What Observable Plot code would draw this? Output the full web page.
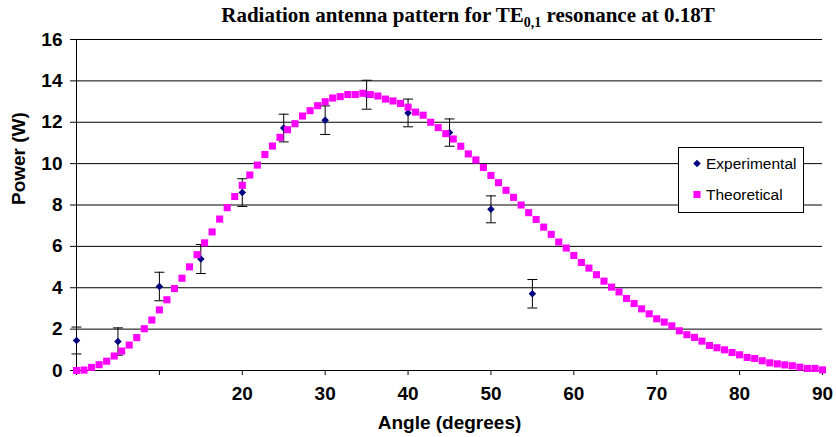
<!DOCTYPE html>
<html><head><meta charset="utf-8">
<script src="https://cdn.jsdelivr.net/npm/d3@7"></script>
<script src="https://cdn.jsdelivr.net/npm/@observablehq/plot@0.6"></script>
<style>
body{margin:0;background:#fff;}
#wrap{position:relative;width:836px;height:437px;background:#fff;overflow:hidden;}
#title{position:absolute;top:3px;left:468px;transform:translateX(-50%);white-space:nowrap;font-family:"Liberation Serif","Times New Roman",serif;font-weight:bold;font-size:21px;line-height:24px;color:#000;}
#title sub{font-size:14px;vertical-align:-5px;line-height:0;}
#chart{position:absolute;top:30px;left:0;}
</style></head><body>
<div id="wrap">
<div id="title">Radiation antenna pattern for TE<sub>0,1</sub> resonance at 0.18T</div>
<div id="chart"></div>
</div>
<script>
// Theoretical curve (angle in degrees, power in W)
const theoryAngle = [0,0.91,1.82,2.73,3.64,4.55,5.45,6.36,7.27,8.18,9.09,10,10.91,11.82,12.73,13.64,14.55,15.45,16.36,17.27,18.18,19.09,20,20.91,21.82,22.73,23.64,24.55,25.45,26.36,27.27,28.18,29.09,30,30.91,31.82,32.73,33.64,34.55,35.45,36.36,37.27,38.18,39.09,40,40.91,41.82,42.73,43.64,44.55,45.45,46.36,47.27,48.18,49.09,50,50.91,51.82,52.73,53.64,54.55,55.45,56.36,57.27,58.18,59.09,60,60.91,61.82,62.73,63.64,64.55,65.45,66.36,67.27,68.18,69.09,70,70.91,71.82,72.73,73.64,74.55,75.45,76.36,77.27,78.18,79.09,80,80.91,81.82,82.73,83.64,84.55,85.45,86.36,87.27,88.18,89.09,90];
const theoryPower = [0.00,0.02,0.15,0.28,0.45,0.70,0.94,1.23,1.59,2.02,2.44,2.93,3.42,3.96,4.46,5.01,5.60,6.17,6.70,7.32,7.87,8.41,8.95,9.45,9.93,10.44,10.85,11.27,11.64,11.93,12.30,12.56,12.80,12.99,13.17,13.24,13.34,13.34,13.40,13.34,13.27,13.12,13.03,12.91,12.73,12.49,12.34,12.00,11.74,11.45,11.19,10.84,10.47,10.18,9.81,9.43,9.08,8.71,8.37,8.00,7.63,7.30,6.93,6.58,6.21,5.92,5.56,5.22,4.95,4.63,4.32,4.03,3.80,3.48,3.24,2.98,2.74,2.50,2.34,2.16,1.92,1.73,1.60,1.42,1.21,1.10,1.00,0.87,0.76,0.63,0.58,0.47,0.37,0.32,0.27,0.23,0.16,0.10,0.10,0.03];

// Experimental measurements
const expAngle = [0,5,10,15,20,25,30,35,40,45,50,55];
const expPower = [1.45,1.40,4.06,5.39,8.60,11.72,12.10,13.33,12.45,11.50,7.79,3.71];
const expError = [0.65,0.66,0.69,0.70,0.67,0.67,0.69,0.70,0.67,0.66,0.65,0.69];

const yTicks = [0,2,4,6,8,10,12,14,16];
const xTicks = [0,10,20,30,40,50,60,70,80,90];
const xTickLabels = ["","","20","30","40","50","60","70","80","90"];
const seriesNames = ["Experimental","Theoretical"];
const xLabel = "Angle (degrees)";
const yLabel = "Power (W)";

const theory = theoryAngle.map((a,i)=>({angle:a, power:theoryPower[i]}));
const exp = expAngle.map((a,i)=>({angle:a, power:expPower[i], lo:expPower[i]-expError[i], hi:expPower[i]+expError[i]}));

const capSymbol = {draw(ctx){ ctx.moveTo(-5,0); ctx.lineTo(5,0); }};
const expColor = "#000080", theoColor = "#FF00FF";
const sans = '"Liberation Sans", Arial, sans-serif';

const plot = Plot.plot({
  width: 836, height: 407,
  marginLeft: 76, marginRight: 14, marginTop: 9, marginBottom: 67,
  style: {fontFamily: sans, fontSize: "19px", fontWeight: "bold", color: "#000", background: "#fff", overflow: "visible"},
  x: {domain: [0, 90]},
  y: {domain: [0, 16]},
  marks: [
    Plot.ruleY(yTicks.filter(d => d > 0), {stroke: "#000", strokeWidth: 1}),
    Plot.ruleY([0], {stroke: "#000"}),
    Plot.ruleX([0], {stroke: "#000"}),
    Plot.axisY({ticks: yTicks, tickSize: 6, tickPadding: 8, label: null}),
    Plot.axisX({ticks: xTicks, tickSize: 5, tickPadding: 11, label: null, tickFormat: d => xTickLabels[xTicks.indexOf(d)]}),
    Plot.ruleX(exp, {x: "angle", y1: "lo", y2: "hi", stroke: "#000", strokeWidth: 1}),
    Plot.dot(exp, {x: "angle", y: "hi", symbol: capSymbol, stroke: "#000", fill: "none", strokeWidth: 1}),
    Plot.dot(exp, {x: "angle", y: "lo", symbol: capSymbol, stroke: "#000", fill: "none", strokeWidth: 1}),
    Plot.dot(exp, {x: "angle", y: "power", symbol: "diamond2", r: 3.4, fill: expColor, stroke: null}),
    Plot.dot(theory, {x: "angle", y: "power", symbol: "square", r: 4, fill: theoColor, stroke: null}),
    Plot.text([xLabel], {text: d => d, frameAnchor: "bottom", dy: 52, lineAnchor: "middle", fontSize: 19, fontWeight: "bold"}),
    Plot.text([yLabel], {text: d => d, frameAnchor: "left", dx: -58, rotate: -90, lineAnchor: "middle", fontSize: 19, fontWeight: "bold"})
  ]
});
document.getElementById("chart").appendChild(plot);

// Legend box
const svg = d3.select(plot);
const lg = svg.append("g").attr("font-family", sans).attr("font-weight", "normal").attr("font-size", "15.5px").attr("fill", "#000").attr("text-anchor", "start");
lg.append("rect").attr("x", 678.5).attr("y", 117.5).attr("width", 125).attr("height", 65).attr("fill", "#fff").attr("stroke", "#000").attr("stroke-width", 1);
const legendSymbols = [d3.symbol(d3.symbolDiamond2, Math.PI*3.4*3.4)(), d3.symbol(d3.symbolSquare, Math.PI*16)()];
const legendColors = [expColor, theoColor];
const legendY = [133.5, 164.5];
seriesNames.forEach((name, i) => {
  lg.append("path").attr("d", legendSymbols[i]).attr("transform", `translate(697,${legendY[i]})`).attr("fill", legendColors[i]).attr("stroke", "none");
  lg.append("text").attr("x", 706).attr("y", legendY[i]).attr("dy", "0.35em").attr("text-anchor", "start").text(name);
});
</script>
</body></html>
